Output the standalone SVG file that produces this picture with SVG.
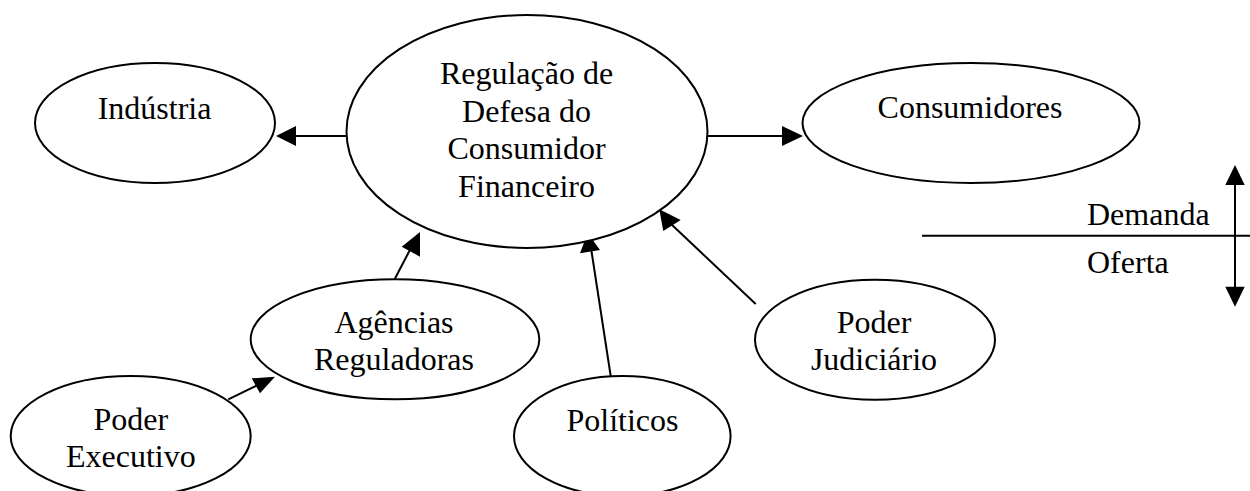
<svg xmlns="http://www.w3.org/2000/svg" width="1250" height="491" viewBox="0 0 1250 491">
<style>
.n{fill:#fff;stroke:#000;stroke-width:2}
.t{font-family:"Liberation Serif","Times New Roman",serif;font-size:32px;fill:#000;text-anchor:middle}
.l{font-family:"Liberation Serif","Times New Roman",serif;font-size:32px;fill:#000}
.c{stroke:#000;stroke-width:2;fill:none}
.h{fill:#000;stroke:none}
</style>
<rect width="1250" height="491" fill="#fff"/>
<g id="connectors">
<line class="c" x1="347" y1="136" x2="294" y2="136"/>
<polygon class="h" points="276,136 296,126 296,146"/>
<line class="c" x1="708" y1="136" x2="785" y2="136"/>
<polygon class="h" points="803,136 782,126 782,146"/>
<line class="c" x1="395" y1="278.5" x2="412" y2="246"/>
<polygon class="h" points="420,232 401.7,246.7 420,256.7"/>
<line class="c" x1="610.7" y1="376" x2="591" y2="248"/>
<polygon class="h" points="587.7,233 580,253.3 600,250"/>
<line class="c" x1="755.7" y1="304" x2="671" y2="224"/>
<polygon class="h" points="659.3,209.3 663.3,231 680.7,220"/>
<line class="c" x1="228.3" y1="399.3" x2="258" y2="385"/>
<polygon class="h" points="275,376.7 251.7,378.3 260,393.3"/>
<line class="c" x1="922" y1="235.7" x2="1250" y2="235.7"/>
<line class="c" x1="1235" y1="183" x2="1235" y2="289"/>
<polygon class="h" points="1235,165 1225.3,185 1244.7,185"/>
<polygon class="h" points="1235,306.7 1225.3,286.7 1244.7,286.7"/>
</g>
<g id="industria">
<ellipse class="n" cx="155" cy="123" rx="120" ry="60"/>
<text class="t" x="154.5" y="119">Indústria</text>
</g>
<g id="regulacao">
<ellipse class="n" cx="527" cy="131.5" rx="180.5" ry="116.5"/>
<text class="t" x="526.5" y="84">Regulação de</text>
<text class="t" x="526.5" y="121.5">Defesa do</text>
<text class="t" x="526.5" y="159">Consumidor</text>
<text class="t" x="526.5" y="196.5">Financeiro</text>
</g>
<g id="consumidores">
<ellipse class="n" cx="971" cy="123" rx="168.5" ry="60"/>
<text class="t" x="970" y="118.3">Consumidores</text>
</g>
<g id="demanda-oferta">
<text class="l" x="1087" y="225">Demanda</text>
<text class="l" x="1087" y="272.7">Oferta</text>
</g>
<g id="agencias">
<ellipse class="n" cx="395" cy="339.3" rx="144.3" ry="60"/>
<text class="t" x="394" y="333.3">Agências</text>
<text class="t" x="394" y="370">Reguladoras</text>
</g>
<g id="executivo">
<ellipse class="n" cx="130.7" cy="436" rx="120" ry="60"/>
<text class="t" x="130.8" y="430">Poder</text>
<text class="t" x="130.8" y="466.7">Executivo</text>
</g>
<g id="politicos">
<ellipse class="n" cx="622.3" cy="436" rx="108.3" ry="60"/>
<text class="t" x="622.5" y="431">Políticos</text>
</g>
<g id="judiciario">
<ellipse class="n" cx="875" cy="339.7" rx="120" ry="60"/>
<text class="t" x="874" y="333.3">Poder</text>
<text class="t" x="874" y="370">Judiciário</text>
</g>
</svg>
